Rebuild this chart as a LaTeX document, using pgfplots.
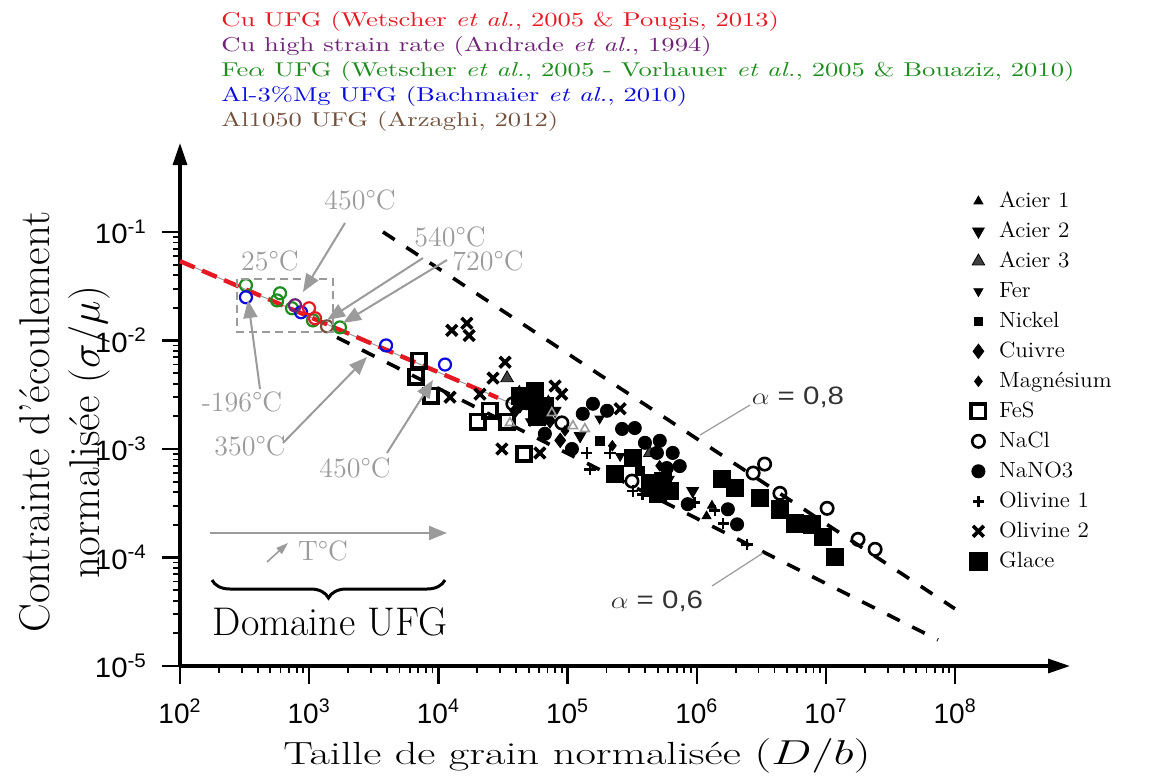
\documentclass[border=0pt]{standalone}
\usepackage{pgfplots}
\pgfplotsset{compat=1.18}
\usepackage{fontspec}
\newfontfamily\tickfont{Liberation Sans}
\usetikzlibrary{arrows.meta,decorations.pathreplacing}
\definecolor{ufgred}{RGB}{230,25,35}
\definecolor{ufgpurple}{RGB}{110,35,120}
\definecolor{ufggreen}{RGB}{30,140,30}
\definecolor{ufgblue}{RGB}{10,10,225}
\definecolor{ufgbrown}{RGB}{115,80,60}
\definecolor{gry}{RGB}{155,155,155}
\newcommand{\xtl}[1]{{\tickfont 10\textsuperscript{#1}}}
\newcommand{\ytl}[1]{\scalebox{1.05}[1]{\tickfont 10\textsuperscript{#1}}}
\newcommand{\lgd}[1]{\scalebox{1.05}[1]{#1}}
\newcommand{\ttl}[1]{\scalebox{1.33}[1]{#1}}
\begin{document}
\begin{tikzpicture}
\begin{axis}[
  at={(0,0)}, anchor=south west,
  scale only axis, width=445pt, height=261.5pt,
  xmode=log, ymode=log,
  xmin=100, xmax=7.74e8, ymin=1e-5, ymax=0.66,
  axis lines=left,
  axis line style={line width=1.6pt, -{Triangle[length=11pt,width=7pt]}},
  xtick={1e2,1e3,1e4,1e5,1e6,1e7,1e8},
  xticklabels={\xtl{2},\xtl{3},\xtl{4},\xtl{5},\xtl{6},\xtl{7},\xtl{8}},
  ytick={1e-5,1e-4,1e-3,1e-2,1e-1},
  yticklabels={\ytl{-5},\ytl{-4},\ytl{-3},\ytl{-2},\ytl{-1}},
  minor xtick={2e2,3e2,4e2,5e2,6e2,7e2,8e2,9e2,2e3,3e3,4e3,5e3,6e3,7e3,8e3,9e3,2e4,3e4,4e4,5e4,6e4,7e4,8e4,9e4,2e5,3e5,4e5,5e5,6e5,7e5,8e5,9e5,2e6,3e6,4e6,5e6,6e6,7e6,8e6,9e6,2e7,3e7,4e7,5e7,6e7,7e7,8e7,9e7},
  minor ytick={2e-5,3e-5,4e-5,5e-5,6e-5,7e-5,8e-5,9e-5,2e-4,3e-4,4e-4,5e-4,6e-4,7e-4,8e-4,9e-4,2e-3,3e-3,4e-3,5e-3,6e-3,7e-3,8e-3,9e-3,2e-2,3e-2,4e-2,5e-2,6e-2,7e-2,8e-2,9e-2},
  tick label style={font=\fontsize{14}{16}\selectfont, black},
  xticklabel style={yshift=-4pt},
  yticklabel style={xshift=-4pt},
  tick align=outside,
  major tick length=9pt, minor tick length=3.5pt,
  major tick style={black, line width=1.2pt},
  minor tick style={black, line width=0.9pt},
  clip=false,
  legend style={draw=none, fill=none, at={(0.887,0.918)}, anchor=north west,
    font=\fontsize{11}{13}\selectfont, row sep=0pt, inner sep=0pt,
    nodes={inner sep=1pt, text height=9.5pt, text depth=3.5pt},
    /tikz/every odd column/.style={column sep=5pt}},
  legend cell align=left,
  legend image code/.code={\draw[mark repeat=2,mark phase=2,#1] plot coordinates {(0cm,0cm)(0.2cm,0cm)(0.4cm,0cm)};},
]
% fitted lines
\addplot[forget plot, gry, line width=0.5pt] coordinates {(100,0.0538) (4.87e4,0.00227)};
\addplot[forget plot, ufgred, line width=2.2pt, dash pattern=on 8pt off 4pt] coordinates {(100,0.0538) (2.89e4,0.00296)};
\addplot[forget plot, black, line width=1.8pt, dash pattern=on 7pt off 7pt] coordinates {(3724,0.1) (9.95e7,3.37e-5)};
\addplot[forget plot, black, line width=1.8pt, dash pattern=on 7pt off 7pt] coordinates {(1641,0.01067) (7.36e7,1.74e-5)};
% black data
\addplot[only marks, mark=triangle*, mark size=2.6pt, black] coordinates {(6.1e4,0.0031) (7.1e4,0.0028) (1.19e6,0.00024) (1.31e6,0.0003)};
\addlegendentry{\lgd{Acier 1}}
\addplot[only marks, mark=triangle*, mark size=3.4pt, black, mark options={rotate=180}] coordinates {(1.25e5,0.00132) (9.29e5,0.00041) (8.0e4,0.00225)};
\addlegendentry{\lgd{Acier 2}}
\addplot[only marks, mark=triangle*, mark size=3.6pt, draw=black, fill=black!75] coordinates {(3.40e4,0.0045) (4.23e4,0.0033) (4.33e5,0.00092)};
\addlegendentry{\lgd{Acier 3}}
\addplot[only marks, mark=triangle*, mark size=2.6pt, black, mark options={rotate=180}] coordinates {(1.77e5,0.0019) (6.17e5,0.00053) (5.12e4,0.0018) (2.55e5,0.00086)};
\addlegendentry{\lgd{Fer}}
\addplot[only marks, mark=square*, mark size=2.2pt, black] coordinates {(5.6e4,0.00225) (1.77e5,0.00119) (3.63e5,0.00063)};
\addlegendentry{\lgd{Nickel}}
\addplot[only marks, mark=diamond*, mark size=3.6pt, black] coordinates {(4.68e4,0.0029) (5.45e4,0.0024) (6.67e4,0.0019) (4.27e4,0.0025) (8.77e4,0.0012) (3.92e4,0.00225) (7.31e4,0.00182)};
\addlegendentry{\lgd{Cuivre}}
\addplot[only marks, mark=diamond*, mark size=2.6pt, black] coordinates {(9.55e4,0.00147) (2.22e5,0.00107) (5.16e5,0.0007)};
\addlegendentry{\lgd{Magnésium}}
\addplot[only marks, mark=square, mark size=3.6pt, black, line width=1.8pt] coordinates {(7070,0.00653) (6720,0.00464) (8760,0.0031) (2.02e4,0.00178) (2.50e4,0.00225) (3.40e4,0.00178) (4.60e4,0.0009)};
\addlegendentry{\lgd{FeS}}
\addplot[only marks, mark=o, mark size=3.1pt, black, line width=1.3pt] coordinates {(3.77e4,0.00261) (9.03e4,0.00174) (3.15e5,0.000506) (2.73e6,0.0006) (3.35e6,0.000726) (4.40e6,0.00039) (1.02e7,0.000284) (1.77e7,0.000147) (2.40e7,0.000119)};
\addlegendentry{\lgd{NaCl}}
\addplot[only marks, mark=*, mark size=3.3pt, black] coordinates {(1.31e5,0.00211) (1.57e5,0.00261) (2.02e5,0.00225) (2.64e5,0.00153) (3.31e5,0.00156) (3.97e5,0.00114) (5.17e5,0.00119) (4.91e5,0.00092) (6.51e5,0.00092) (5.86e5,0.000667) (7.38e5,0.000696) (6.67e4,0.00138) (1.08e5,0.001) (1.74e6,0.000278) (2.05e6,0.000202) (8.51e5,0.00031)};
\addlegendentry{\lgd{NaNO3}}
\addplot[only marks, mark=+, mark size=2.8pt, black, line width=1.3pt] coordinates {(1.41e5,0.00092) (1.49e5,0.00065) (3.20e5,0.00041) (3.82e5,0.00038) (9.62e5,0.00032) (1.38e6,0.00027) (1.60e6,0.000206) (2.45e6,0.000132) (2.13e5,0.00092)};
\addlegendentry{\lgd{Olivine 1}}
\addplot[only marks, mark=x, mark size=3.8pt, black, line width=1.8pt] coordinates {(1.27e4,0.0124) (1.66e4,0.0144) (1.73e4,0.0111) (3.28e4,0.0063) (2.65e4,0.0045) (2.10e4,0.0032) (1.23e4,0.003) (8.0e4,0.0038) (9.0e4,0.0032) (2.55e5,0.00235) (3.10e4,0.001) (6.1e4,0.00092)};
\addlegendentry{\lgd{Olivine 2}}
\addplot[only marks, mark=square*, mark size=4.3pt, black] coordinates {(5.78e4,0.002) (5.12e4,0.0028) (4.29e4,0.0031) (6.68e4,0.0025) (5.6e4,0.00344) (2.32e5,0.000587) (3.20e5,0.000826) (4.57e5,0.000435) (5.45e5,0.000506) (6.17e5,0.000408) (5.0e5,0.000383) (4.33e5,0.000485) (1.56e6,0.000528) (1.98e6,0.000435) (3.09e6,0.000352) (4.40e6,0.000278) (5.75e6,0.000206) (7.78e6,0.000202) (9.47e6,0.000156) (1.175e7,0.000102)};
\addlegendentry{\lgd{Glace}}
\addplot[forget plot, only marks, mark=triangle, mark size=2.6pt, gry, line width=0.8pt] coordinates {(7.55e4,0.00215) (1.10e5,0.00163) (3.58e4,0.00174) (1.36e5,0.00153)};
% UFG data
\addplot[forget plot, only marks, mark=o, mark size=3pt, line width=1.1pt, ufggreen] coordinates {(324,0.0323) (595,0.0272) (564,0.0234) (736,0.0198) (1069,0.0153) (1730,0.0132)};
\addplot[forget plot, only marks, mark=o, mark size=3pt, line width=1.1pt, ufgblue] coordinates {(324,0.025) (865,0.0182) (3935,0.009) (11250,0.006)};
\addplot[forget plot, only marks, mark=o, mark size=3pt, line width=1.1pt, ufgpurple] coordinates {(777,0.0211)};
\addplot[forget plot, only marks, mark=o, mark size=3pt, line width=1.1pt, ufgred] coordinates {(997,0.0198) (1110,0.016)};
\addplot[forget plot, only marks, mark=o, mark size=3pt, line width=1.1pt, ufgbrown] coordinates {(1374,0.0135)};
\end{axis}
\begin{scope}[shift={(-90pt,333pt)}, x=0.5pt, y=-0.5pt]
  \begin{scope}[every node/.style={anchor=west, inner sep=0pt, font=\fontsize{10}{12}\selectfont}]
  \node[text=ufgred] at (221,22) {\ttl{Cu UFG (Wetscher \textit{et al.}, 2005 \& Pougis, 2013)}};
  \node[text=ufgpurple] at (221,47) {\ttl{Cu high strain rate (Andrade \textit{et al.}, 1994)}};
  \node[text=ufggreen] at (221,72) {\ttl{Fe$\alpha$ UFG (Wetscher \textit{et al.}, 2005 - Vorhauer \textit{et al.}, 2005 \& Bouaziz, 2010)}};
  \node[text=ufgblue] at (221,97) {\ttl{Al-3\%Mg UFG (Bachmaier \textit{et al.}, 2010)}};
  \node[text=ufgbrown] at (221,122) {\ttl{Al1050 UFG (Arzaghi, 2012)}};
  \end{scope}
  \draw[gry, line width=1pt, dash pattern=on 4pt off 2.5pt] (237,279) rectangle (333,332);
  \begin{scope}[gry, line width=1pt, -{Triangle[length=9pt,width=7pt]}]
    \draw (345,223) -- (303,292);
    \draw (423,258) -- (327,320);
    \draw (447,260) -- (343,323);
    \draw (260,389) -- (248,300);
    \draw (283,443) -- (367,357);
    \draw (387,453) -- (433,380);
    \draw (210,533) -- (447,533);
    \draw[line width=0.8pt, -{Triangle[length=6pt,width=4pt]}] (267,562) -- (288,543);
  \end{scope}
  \begin{scope}[every node/.style={text=gry, inner sep=0pt, font=\fontsize{14}{16}\selectfont}]
    \node at (360,200) {450\textdegree C};
    \node at (270,261) {25\textdegree C};
    \node at (450,237) {540\textdegree C};
    \node at (488,261) {720\textdegree C};
    \node at (242,402) {-196\textdegree C};
    \node at (250,446) {350\textdegree C};
    \node at (355,468) {450\textdegree C};
    \node at (323,551) {T\textdegree C};
  \end{scope}
  \draw[gry, line width=0.6pt] (750,405) -- (700,435);
  \draw[gry, line width=0.6pt] (712,586) -- (763,553);
  \node[text=black!80, inner sep=0pt, font=\fontsize{12.6}{14}\selectfont] at (798,397) {\scalebox{1.17}[1]{\tickfont $\alpha$ = 0,8}};
  \node[text=black!80, inner sep=0pt, font=\fontsize{12.6}{14}\selectfont] at (657,601) {\scalebox{1.17}[1]{\tickfont $\alpha$ = 0,6}};
  \node[inner sep=0pt, font=\fontsize{20}{22}\selectfont] at (330,622) {Domaine UFG};
  \node[inner sep=0pt, font=\fontsize{16}{19}\selectfont] at (577,756) {\scalebox{1.39}[1]{Taille de grain normalisée $(D/b)$}};
  \node[inner sep=0pt, rotate=90, font=\fontsize{21.5}{26}\selectfont] at (35,422) {Contrainte d'écoulement};
  \node[inner sep=0pt, rotate=90, font=\fontsize{21.5}{26}\selectfont] at (89,432) {normalisée $(\sigma/\mu)$};
\end{scope}
\begin{scope}[shift={(-90pt,333pt)}, x=0.5pt, y=0.5pt]
  \draw[line width=1.5pt, decorate, decoration={brace, amplitude=9pt}] (445,-580) -- (212,-580);
\end{scope}
\pgfresetboundingbox
\begin{scope}[shift={(-90pt,333pt)}, x=0.5pt, y=-0.5pt]
  \path (0,0) rectangle (1157,783);
\end{scope}
\end{tikzpicture}
\end{document}
